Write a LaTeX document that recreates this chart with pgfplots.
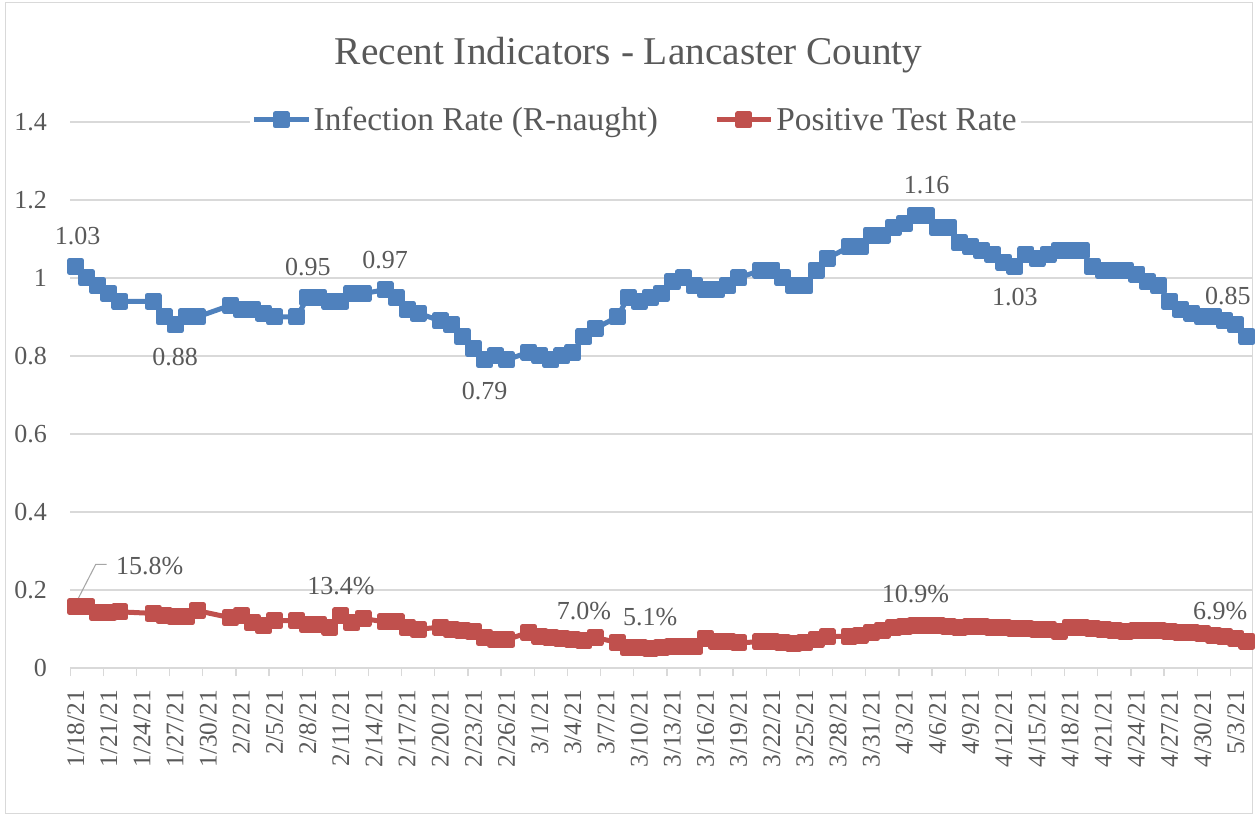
\documentclass[border=0pt]{standalone}
\usepackage{pgfplots}
\pgfplotsset{compat=1.18}
\usepackage{fontspec}
\setmainfont{Liberation Serif}
\definecolor{txt}{HTML}{595959}
\definecolor{gridc}{HTML}{D9D9D9}
\definecolor{blueS}{HTML}{4F81BD}
\definecolor{redS}{HTML}{C0504D}

\pgfplotstableread{
day r
0 1.03
1 1.00
2 0.98
3 0.96
4 0.94
7 0.94
8 0.90
9 0.88
10 0.90
11 0.90
14 0.93
15 0.92
16 0.92
17 0.91
18 0.90
20 0.90
21 0.95
22 0.95
23 0.94
24 0.94
25 0.96
26 0.96
28 0.97
29 0.95
30 0.92
31 0.91
33 0.89
34 0.88
35 0.85
36 0.82
37 0.79
38 0.80
39 0.79
41 0.81
42 0.80
43 0.79
44 0.80
45 0.81
46 0.85
47 0.87
49 0.90
50 0.95
51 0.94
52 0.95
53 0.96
54 0.99
55 1.00
56 0.98
57 0.97
58 0.97
59 0.98
60 1.00
62 1.02
63 1.02
64 1.00
65 0.98
66 0.98
67 1.02
68 1.05
70 1.08
71 1.08
72 1.11
73 1.11
74 1.13
75 1.14
76 1.16
77 1.16
78 1.13
79 1.13
80 1.09
81 1.08
82 1.07
83 1.06
84 1.04
85 1.03
86 1.06
87 1.05
88 1.06
89 1.07
90 1.07
91 1.07
92 1.03
93 1.02
94 1.02
95 1.02
96 1.01
97 0.99
98 0.98
99 0.94
100 0.92
101 0.91
102 0.90
103 0.90
104 0.89
105 0.88
106 0.85
}\rnaught

\pgfplotstableread{
day p
0 0.158
1 0.157
2 0.142
3 0.142
4 0.144
7 0.140
8 0.134
9 0.131
10 0.131
11 0.147
14 0.129
15 0.134
16 0.116
17 0.108
18 0.121
20 0.122
21 0.112
22 0.112
23 0.105
24 0.134
25 0.116
26 0.127
28 0.118
29 0.118
30 0.105
31 0.099
33 0.105
34 0.099
35 0.097
36 0.093
37 0.078
38 0.073
39 0.073
41 0.091
42 0.082
43 0.079
44 0.076
45 0.072
46 0.070
47 0.078
49 0.066
50 0.053
51 0.052
52 0.051
53 0.053
54 0.055
55 0.056
56 0.056
57 0.076
58 0.069
59 0.069
60 0.065
62 0.067
63 0.067
64 0.065
65 0.063
66 0.065
67 0.073
68 0.080
70 0.082
71 0.084
72 0.091
73 0.097
74 0.103
75 0.107
76 0.109
77 0.109
78 0.108
79 0.106
80 0.105
81 0.107
82 0.106
83 0.104
84 0.103
85 0.101
86 0.101
87 0.100
88 0.099
89 0.094
90 0.104
91 0.104
92 0.102
93 0.100
94 0.097
95 0.094
96 0.095
97 0.097
98 0.096
99 0.094
100 0.092
101 0.090
102 0.088
103 0.084
104 0.080
105 0.076
106 0.069
}\ptr

\begin{document}
\begin{tikzpicture}
\path[use as bounding box] (0pt,0pt) rectangle (941.25pt,612.75pt);
\draw[gridc, line width=0.75pt] (3.75pt,3pt) rectangle (939.4pt,610.5pt);
\node[text=txt, font=\fontsize{29.5}{34}\selectfont] at (471.5pt,571.5pt) {Recent Indicators - Lancaster County};
\begin{axis}[
  at={(52.65pt,111.75pt)}, anchor=south west,
  scale only axis, width=886.7pt, height=409.5pt,
  xmin=-0.5, xmax=106.5, ymin=0, ymax=1.4,
  axis x line*=bottom, axis y line*=left,
  y axis line style={draw=none},
  x axis line style={draw=gridc, line width=1pt},
  ymajorgrids, grid style={gridc, line width=1pt},
  ytick={0,0.2,0.4,0.6,0.8,1,1.2,1.4},
  yticklabels={0,0.2,0.4,0.6,0.8,1,1.2,1.4},
  ytick style={draw=none},
  yticklabel style={text=txt, font=\fontsize{19.5}{22}\selectfont, xshift=-14pt},
  xtick={0,3,...,105},
  xticklabels={1/18/21,1/21/21,1/24/21,1/27/21,1/30/21,2/2/21,2/5/21,2/8/21,2/11/21,2/14/21,2/17/21,2/20/21,2/23/21,2/26/21,3/1/21,3/4/21,3/7/21,3/10/21,3/13/21,3/16/21,3/19/21,3/22/21,3/25/21,3/28/21,3/31/21,4/3/21,4/6/21,4/9/21,4/12/21,4/15/21,4/18/21,4/21/21,4/24/21,4/27/21,4/30/21,5/3/21},
  xticklabel style={rotate=90, anchor=east, text=txt, font=\fontsize{19}{22}\selectfont, xshift=-13pt},
  major tick length=0pt,
  extra x ticks={-0.5,2.5,...,104.5},
  extra x tick labels={},
  extra x tick style={major tick length=6pt, tick align=outside, xtick style={draw=gridc, line width=1pt}},
  legend columns=2,
  legend style={at={(0.478,1.0037)}, anchor=center, draw=none, fill=white,
    font=\fontsize{25}{28}\selectfont, text=txt, inner sep=1pt,
    /tikz/every even column/.append style={column sep=40pt}},
  legend image code/.code={\draw[#1, mark repeat=2, mark phase=2] plot coordinates {(0pt,0pt) (20.5pt,0pt) (41pt,0pt)};},
  clip=false,
]
\addplot[blueS, line width=3.75pt, line join=round, mark=square*, mark size=4.5pt, mark options={draw=none, fill=blueS}] table[x=day, y=r] {\rnaught};
\addlegendentry{Infection Rate (R-naught)}
\addplot[redS, line width=3.75pt, line join=round, mark=square*, mark size=4.5pt, mark options={draw=none, fill=redS}] table[x=day, y=p] {\ptr};
\addlegendentry{Positive Test Rate}

\tikzset{lbl/.style={text=txt, font=\fontsize{19.5}{22}\selectfont, inner sep=0pt}}
\node[lbl, xshift=1.5pt, yshift=22.5pt] at (axis cs:0,1.03) {1.03};
\node[lbl, yshift=-24.5pt] at (axis cs:9,0.88) {0.88};
\node[lbl, yshift=22.5pt] at (axis cs:21,0.95) {0.95};
\node[lbl, yshift=22pt] at (axis cs:28,0.97) {0.97};
\node[lbl, yshift=-23pt] at (axis cs:37,0.79) {0.79};
\node[lbl, yshift=23pt] at (axis cs:77,1.16) {1.16};
\node[lbl, yshift=-23pt] at (axis cs:85,1.03) {1.03};
\node[lbl, xshift=-14.25pt, yshift=30pt] at (axis cs:106,0.85) {0.85};
\draw[gray!70, line width=0.8pt] ([xshift=-25.5pt,yshift=19.5pt]axis cs:106,0.85) -- ([xshift=-3pt,yshift=3pt]axis cs:106,0.85);

\node[lbl, xshift=55.5pt, yshift=30pt] at (axis cs:0,0.158) {15.8\%};
\draw[gray!70, line width=0.8pt] ([yshift=2.25pt]axis cs:0,0.158) -- ([xshift=15pt,yshift=31.5pt]axis cs:0,0.158) -- ([xshift=23.25pt,yshift=31.5pt]axis cs:0,0.158);
\node[lbl, yshift=22.5pt] at (axis cs:24,0.134) {13.4\%};
\node[lbl, yshift=22.5pt] at (axis cs:46,0.070) {7.0\%};
\node[lbl, yshift=23pt] at (axis cs:52,0.051) {5.1\%};
\node[lbl, yshift=23.5pt] at (axis cs:76,0.109) {10.9\%};
\node[lbl, xshift=-20pt, yshift=22.5pt] at (axis cs:106,0.069) {6.9\%};
\end{axis}
\end{tikzpicture}
\end{document}
